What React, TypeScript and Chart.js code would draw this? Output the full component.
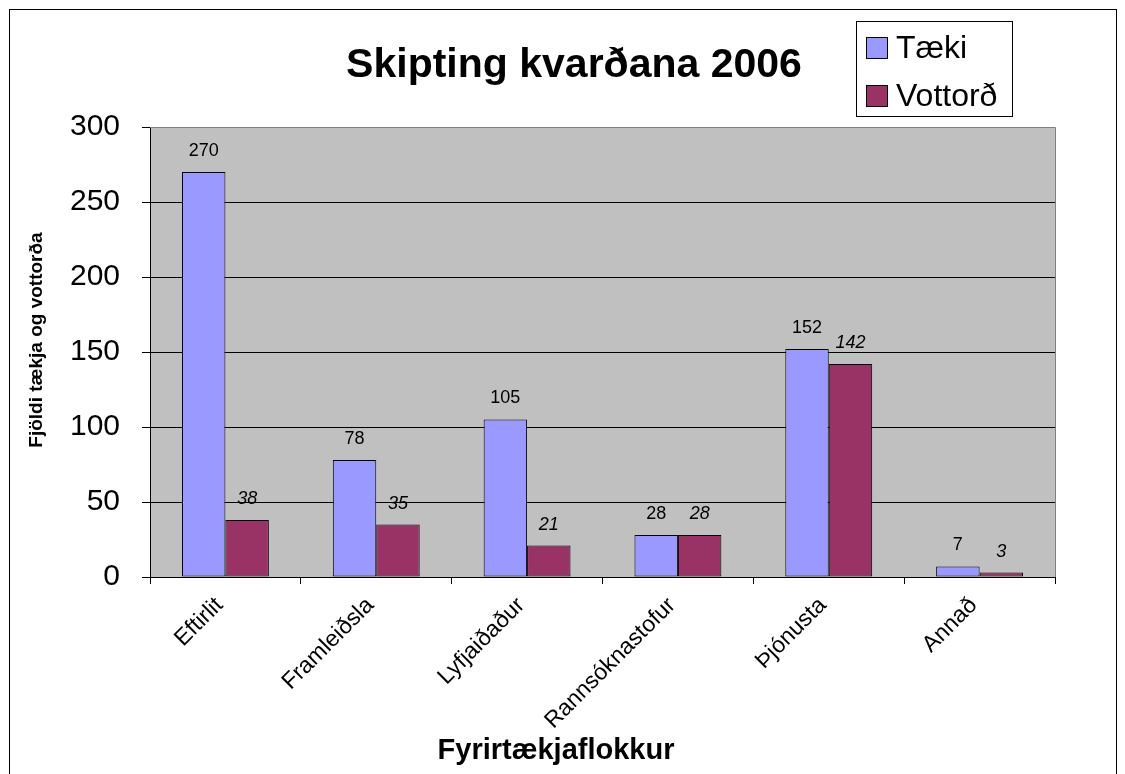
import React, { useEffect, useRef } from "react";
import { Chart, registerables } from "chart.js";

Chart.register(...registerables);

const categories = ["Eftirlit", "Framleiðsla", "Lyfjaiðaður", "Rannsóknastofur", "Þjónusta", "Annað"];
const taekiValues = [270, 78, 105, 28, 152, 7];
const vottordValues = [38, 35, 21, 28, 142, 3];
const seriesNames = ["Tæki", "Vottorð"];
const chartTitle = "Skipting kvarðana 2006";
const yAxisTitle = "Fjöldi tækja og vottorða";
const xAxisTitle = "Fyrirtækjaflokkur";

const FONT = "'Liberation Sans', Arial, sans-serif";
const COLORS = ["#9999FF", "#993366"];

const decorPlugin = {
  id: "decor",
  beforeDraw(chart: any) {
    const { ctx, chartArea } = chart;
    ctx.save();
    ctx.fillStyle = "#ffffff";
    ctx.fillRect(0, 0, chart.width, chart.height);
    ctx.fillStyle = "#C0C0C0";
    ctx.fillRect(chartArea.left, chartArea.top, chartArea.right - chartArea.left, chartArea.bottom - chartArea.top);
    // outer frame
    ctx.strokeStyle = "#000000";
    ctx.lineWidth = 1;
    ctx.strokeRect(9.5, 9.5, 1107, 800);
    ctx.restore();
  },
  beforeDatasetsDraw(chart: any) {
    const { ctx, chartArea } = chart;
    ctx.save();
    ctx.strokeStyle = "#808080";
    ctx.lineWidth = 1;
    ctx.beginPath();
    ctx.moveTo(chartArea.left, chartArea.top + 0.5);
    ctx.lineTo(chartArea.right + 0.5, chartArea.top + 0.5);
    ctx.lineTo(chartArea.right + 0.5, chartArea.bottom);
    ctx.stroke();
    ctx.restore();
  },
  afterDraw(chart: any) {
    const { ctx } = chart;
    ctx.save();
    ctx.fillStyle = "#000000";
    // title
    ctx.font = `bold 41px ${FONT}`;
    ctx.textAlign = "center";
    ctx.textBaseline = "middle";
    ctx.fillText(chartTitle, 574, 66);
    // x title
    ctx.font = `bold 29px ${FONT}`;
    ctx.fillText(xAxisTitle, 556, 751);
    // y title
    ctx.save();
    ctx.translate(37, 340);
    ctx.rotate(-Math.PI / 2);
    ctx.font = `bold 19px ${FONT}`;
    ctx.fillText(yAxisTitle, 0, 0);
    ctx.restore();
    // data labels
    chart.data.datasets.forEach((ds: any, di: number) => {
      const meta = chart.getDatasetMeta(di);
      meta.data.forEach((bar: any, i: number) => {
        ctx.font = `${di === 1 ? "italic " : ""}18px ${FONT}`;
        ctx.textAlign = "center";
        ctx.textBaseline = "middle";
        ctx.fillText(String(ds.data[i]), bar.x, bar.y - 21);
      });
    });
    // legend
    const lx = 856, ly = 21, lw = 156, lh = 95;
    ctx.fillStyle = "#ffffff";
    ctx.fillRect(lx, ly, lw, lh);
    ctx.strokeStyle = "#000000";
    ctx.lineWidth = 1;
    ctx.strokeRect(lx + 0.5, ly + 0.5, lw, lh);
    seriesNames.forEach((name, i) => {
      const cy = 48 + i * 48;
      ctx.fillStyle = COLORS[i];
      ctx.fillRect(866, cy - 11, 21, 21);
      ctx.strokeStyle = "#000000";
      ctx.strokeRect(866.5, cy - 10.5, 21, 21);
      ctx.fillStyle = "#000000";
      ctx.font = `32px ${FONT}`;
      ctx.textAlign = "left";
      ctx.textBaseline = "middle";
      ctx.fillText(name, 896, cy + 1);
    });
    ctx.restore();
  },
};

export default function App() {
  const ref = useRef<HTMLCanvasElement | null>(null);
  useEffect(() => {
    if (!ref.current) return;
    const chart = new Chart(ref.current, {
      type: "bar",
      data: {
        labels: categories,
        datasets: [
          {
            label: seriesNames[0],
            data: taekiValues,
            backgroundColor: COLORS[0],
            borderColor: "#000000",
            borderWidth: 1,
            borderSkipped: false,
          },
          {
            label: seriesNames[1],
            data: vottordValues,
            backgroundColor: COLORS[1],
            borderColor: "#000000",
            borderWidth: 1,
            borderSkipped: false,
          },
        ],
      },
      options: {
        responsive: false,
        animation: false,
        layout: { padding: { left: 0, top: 127, right: 70, bottom: 0 } },
        datasets: { bar: { categoryPercentage: 0.576, barPercentage: 1 } },
        plugins: {
          legend: { display: false },
          title: { display: false },
          tooltip: { enabled: false },
        },
        scales: {
          x: {
            offset: true,
            grid: {
              offset: true,
              drawOnChartArea: false,
              drawTicks: true,
              tickLength: 7,
              tickColor: "#000000",
            },
            border: { display: true, color: "#000000", width: 1 },
            ticks: {
              minRotation: 45,
              maxRotation: 45,
              autoSkip: false,
              color: "#000000",
              padding: 8,
              labelOffset: -6,
              font: { family: FONT, size: 23 },
            },
            afterFit(scale: any) {
              scale.height = 774 - 577;
            },
          },
          y: {
            min: 0,
            max: 300,
            ticks: {
              stepSize: 50,
              color: "#000000",
              padding: 22,
              font: { family: FONT, size: 30 },
            },
            grid: {
              color: (c: any) => (c.tick && c.tick.value === 300 ? "#808080" : "#000000"),
              tickColor: "#000000",
              tickLength: 8,
              lineWidth: 1,
            },
            border: { display: true, color: "#000000", width: 1 },
            afterFit(scale: any) {
              scale.width = 150;
            },
          },
        },
      },
      plugins: [decorPlugin],
    });
    return () => chart.destroy();
  }, []);
  return (
    <div style={{ position: "absolute", left: 0, top: 0, width: 1125, height: 774, background: "#fff" }}>
      <canvas ref={ref} width={1125} height={774} style={{ display: "block" }} />
    </div>
  );
}
